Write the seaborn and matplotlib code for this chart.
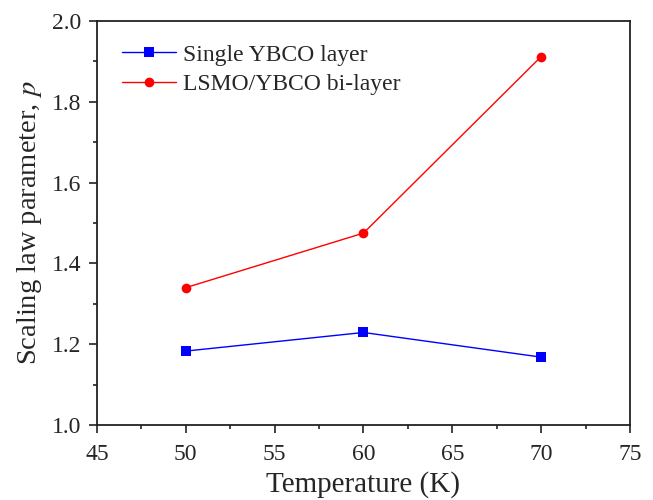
import matplotlib
matplotlib.use("Agg")
import matplotlib.pyplot as plt
from matplotlib.ticker import MultipleLocator
import pandas as pd
import seaborn as sns

temperature = [50, 60, 70]
single_ybco = [1.183, 1.229, 1.168]
lsmo_ybco = [1.340, 1.475, 1.912]
series_names = ["Single YBCO layer", "LSMO/YBCO bi-layer"]

df = pd.DataFrame({
    "T": temperature * 2,
    "p": single_ybco + lsmo_ybco,
    "sample": [series_names[0]] * 3 + [series_names[1]] * 3,
})

sns.set_style("white")
plt.rcParams['font.family'] = ['Liberation Serif', 'DejaVu Serif']
plt.rcParams['mathtext.fontset'] = 'stix'

fig, ax = plt.subplots(figsize=(6.53, 5.0), dpi=100)
fig.subplots_adjust(left=0.1485, right=0.9648, top=0.958, bottom=0.15)

sns.lineplot(
    data=df, x="T", y="p", hue="sample", style="sample",
    palette={series_names[0]: "#0000ff", series_names[1]: "#ff0000"},
    markers={series_names[0]: "s", series_names[1]: "o"},
    dashes=False, linewidth=1.0, markersize=7, markeredgewidth=0,
    ax=ax
)

ax.set_xlim(45, 75)
ax.set_ylim(1.0, 2.0)
ax.xaxis.set_major_locator(MultipleLocator(5))
ax.xaxis.set_minor_locator(MultipleLocator(2.5))
ax.yaxis.set_major_locator(MultipleLocator(0.2))
ax.yaxis.set_minor_locator(MultipleLocator(0.1))
ax.tick_params(which='major', direction='out', length=6, width=1.2,
               labelsize=17, bottom=True, left=True, color='#222222')
ax.tick_params(axis='x', which='major', pad=8)
ax.tick_params(axis='y', which='major', pad=5)
ax.tick_params(which='minor', direction='out', length=3, width=1.2,
               bottom=True, left=True, color='#222222')

for s in ax.spines.values():
    s.set_linewidth(1.3)
    s.set_color('#222222')

ax.set_xlabel("Temperature (K)", fontsize=21, labelpad=4)
ax.set_ylabel("Scaling law parameter, $p$", fontsize=20.5, labelpad=6)

leg = ax.legend(loc='upper left', frameon=False, fontsize=17,
                bbox_to_anchor=(0.047, 0.943), borderpad=0, borderaxespad=0,
                handlelength=2.3, handletextpad=0.3, labelspacing=0.35)
for h in leg.legend_handles:
    h.set_linewidth(1.0)

fig.savefig("out.png", dpi=100)
